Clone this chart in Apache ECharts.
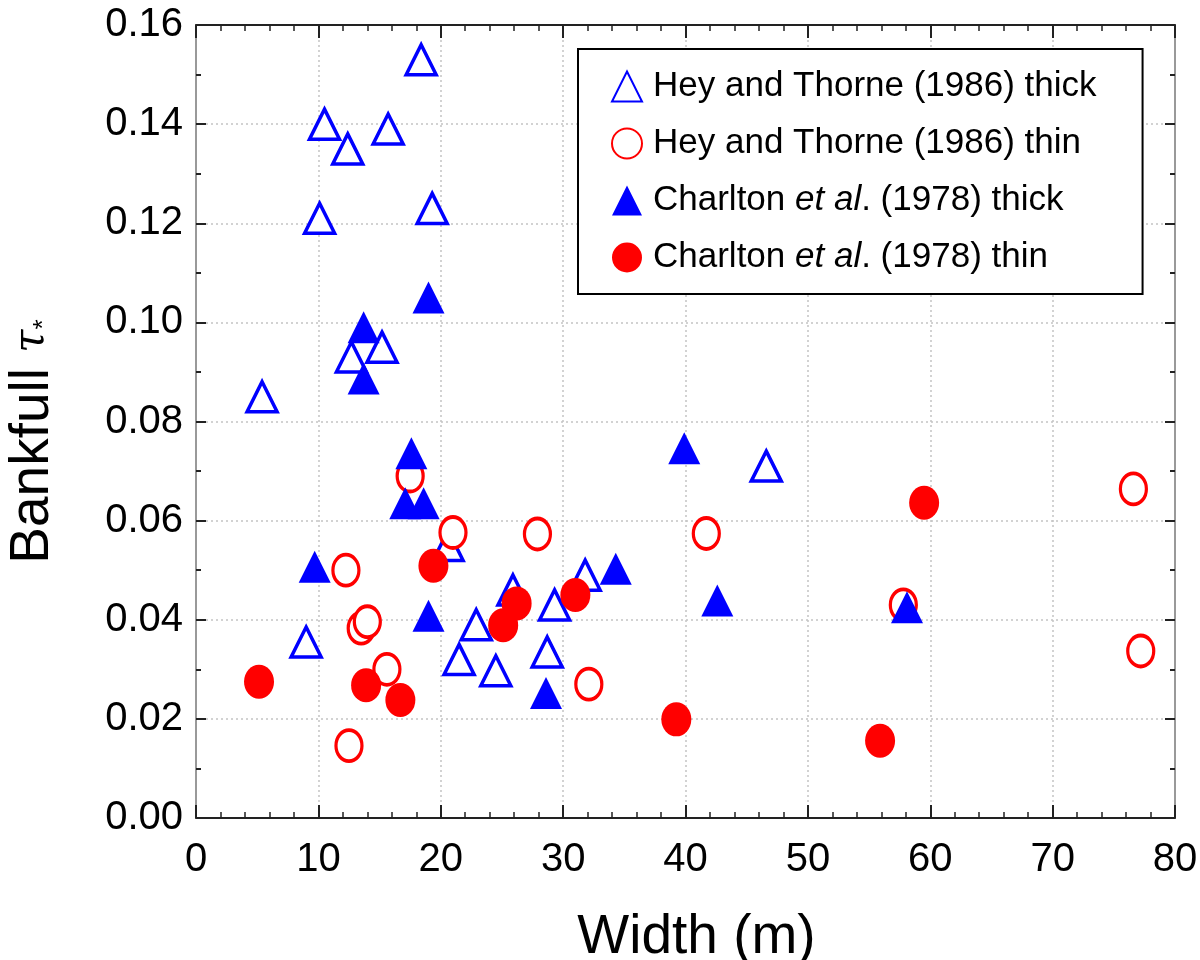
<!DOCTYPE html>
<html>
<head>
<meta charset="utf-8">
<script src="https://cdn.jsdelivr.net/npm/echarts@6/dist/echarts.min.js"></script>
<style>
  html, body { margin: 0; padding: 0; background: #fff; }
  #chart { width: 1200px; height: 960px; }
</style>
</head>
<body>
<div id="chart"></div>
<script>
// values
const heyThickW   = [18.4, 10.5, 12.4, 15.7, 10.1, 19.3, 5.4, 12.7, 15.2, 9.0, 20.6, 21.5, 22.9, 24.5, 25.9, 28.7, 29.3, 31.8, 46.6]
const heyThickTau = [0.153, 0.140, 0.135, 0.139, 0.121, 0.123, 0.085, 0.093, 0.095, 0.0355, 0.055, 0.032, 0.039, 0.0297, 0.046, 0.0335, 0.043, 0.049, 0.071]

const heyThinW   = [17.5, 21.0, 27.9, 12.25, 13.5, 14.0, 15.6, 12.5, 41.7, 57.8, 76.6, 77.2, 32.1]
const heyThinTau = [0.069, 0.0576, 0.0573, 0.050, 0.0383, 0.0396, 0.030, 0.0146, 0.0574, 0.043, 0.0664, 0.0337, 0.027]

const charltonThickW   = [19.0, 13.7, 13.7, 17.6, 17.1, 18.6, 9.7, 19.0, 28.6, 34.3, 39.9, 42.6, 58.1]
const charltonThickTau = [0.105, 0.099, 0.0887, 0.0736, 0.0635, 0.0635, 0.0507, 0.0408, 0.0252, 0.0503, 0.0746, 0.0439, 0.0425]

const charltonThinW   = [5.15, 13.9, 16.7, 19.4, 25.1, 26.2, 31.0, 39.25, 55.9, 59.5]
const charltonThinTau = [0.0275, 0.0268, 0.0238, 0.0509, 0.0389, 0.0433, 0.045, 0.0199, 0.0156, 0.0636]

const xTicks = [0, 10, 20, 30, 40, 50, 60, 70, 80]
const yTicks = [0, 0.02, 0.04, 0.06, 0.08, 0.10, 0.12, 0.14, 0.16]

const BLUE = '#0000ff'
const RED = '#ff0000'
const FONT = 'Arial, "Liberation Sans", sans-serif'

function pairs(xs, ys) {
  return xs.map((x, i) => [x, ys[i]])
}

const chart = echarts.init(document.getElementById('chart'))

const frameX = {
  type: 'value',
  min: xTicks[0],
  max: xTicks[xTicks.length - 1],
  interval: 10,
}
const frameY = {
  type: 'value',
  min: yTicks[0],
  max: yTicks[yTicks.length - 1],
  interval: 0.02,
}

chart.setOption({
  animation: false,
  backgroundColor: '#fff',
  grid: { left: 196, right: 25, top: 25, bottom: 142, outerBoundsMode: 'none' },
  legend: {
    orient: 'vertical',
    left: 578,
    top: 49,
    padding: [20, 46, 19, 33],
    itemWidth: 30,
    itemHeight: 30,
    itemGap: 22,
    borderColor: '#000',
    borderWidth: 2,
    backgroundColor: '#fff',
    data: ['Hey and Thorne (1986) thick', 'Hey and Thorne (1986) thin', 'Charlton et al. (1978) thick', 'Charlton et al. (1978) thin'],
    formatter: name => {
      if (name.startsWith('Charlton')) {
        return '{n|Charlton }{i|et al}{n|. ' + name.slice('Charlton et al. '.length) + '}'
      }
      return '{n|' + name + '}'
    },
    textStyle: {
      fontFamily: FONT,
      fontSize: 35,
      color: '#000',
      padding: [0, 0, 0, 6],
      rich: {
        n: { fontFamily: FONT, fontSize: 35, color: '#000', lineHeight: 30 },
        i: { fontFamily: FONT, fontSize: 35, color: '#000', fontStyle: 'italic', lineHeight: 30 },
      },
    },
  },
  xAxis: [
    Object.assign({}, frameX, {
      position: 'bottom',
      name: 'Width (m)',
      nameLocation: 'middle',
      nameGap: 92,
      nameTextStyle: { fontFamily: FONT, fontSize: 55, color: '#000', padding: [0, 0, 0, 22] },
      axisLine: { onZero: false, lineStyle: { color: '#222', width: 2 } },
      axisTick: { inside: true, length: 13, lineStyle: { color: '#222', width: 2 } },
      minorTick: { show: true, splitNumber: 5, length: 6, lineStyle: { color: '#222', width: 1.5 } },
      axisLabel: { fontFamily: FONT, fontSize: 40, color: '#000', margin: 22 },
      splitLine: { show: true, lineStyle: { color: '#c4c4c4', type: [2, 3], width: 1.5 } },
    }),
    Object.assign({}, frameX, {
      position: 'top',
      axisLine: { onZero: false, lineStyle: { color: '#222', width: 2 } },
      axisTick: { inside: true, length: 13, lineStyle: { color: '#222', width: 2 } },
      minorTick: { show: true, splitNumber: 5, length: 6, lineStyle: { color: '#222', width: 1.5 } },
      axisLabel: { show: false },
      splitLine: { show: false },
    }),
  ],
  yAxis: [
    Object.assign({}, frameY, {
      position: 'left',
      name: '{n|Bankfull }{t|τ}{s|*}',
      nameLocation: 'middle',
      nameGap: 136,
      nameTextStyle: {
        color: '#000',
        padding: [0, 40, 0, 0],
        rich: {
          n: { fontFamily: FONT, fontSize: 55, color: '#000' },
          t: { fontFamily: '"DejaVu Serif", "Liberation Serif", serif', fontStyle: 'italic', fontSize: 42, color: '#000' },
          s: { fontFamily: FONT, fontSize: 26, color: '#000', padding: [22, 0, 0, 0] },
        },
      },
      axisLine: { onZero: false, lineStyle: { color: '#999', width: 2 } },
      axisTick: { inside: true, length: 10, lineStyle: { color: '#222', width: 2 } },
      minorTick: { show: true, splitNumber: 2, length: 5, lineStyle: { color: '#222', width: 2 } },
      axisLabel: {
        fontFamily: FONT, fontSize: 40, color: '#000', margin: 13,
        formatter: v => v.toFixed(2),
      },
      splitLine: { show: true, lineStyle: { color: '#c4c4c4', type: [2, 3], width: 1.5 } },
    }),
    Object.assign({}, frameY, {
      position: 'right',
      axisLine: { onZero: false, lineStyle: { color: '#999', width: 2 } },
      axisTick: { inside: true, length: 10, lineStyle: { color: '#222', width: 2 } },
      minorTick: { show: true, splitNumber: 2, length: 5, lineStyle: { color: '#222', width: 2 } },
      axisLabel: { show: false },
      splitLine: { show: false },
    }),
  ],
  series: [
    {
      name: 'Hey and Thorne (1986) thick',
      type: 'scatter',
      symbol: 'triangle',
      symbolSize: [30, 30],
      itemStyle: { color: '#fff', borderColor: BLUE, borderWidth: 3.5, opacity: 1 },
      data: pairs(heyThickW, heyThickTau),
    },
    {
      name: 'Hey and Thorne (1986) thin',
      type: 'scatter',
      symbol: 'circle',
      symbolSize: [26, 31],
      itemStyle: { color: '#fff', borderColor: RED, borderWidth: 3.5, opacity: 1 },
      data: pairs(heyThinW, heyThinTau),
    },
    {
      name: 'Charlton et al. (1978) thick',
      type: 'scatter',
      symbol: 'triangle',
      symbolSize: [32, 32],
      itemStyle: { color: BLUE, opacity: 1 },
      data: pairs(charltonThickW, charltonThickTau),
    },
    {
      name: 'Charlton et al. (1978) thin',
      type: 'scatter',
      symbol: 'circle',
      symbolSize: [30, 34],
      itemStyle: { color: RED, opacity: 1 },
      data: pairs(charltonThinW, charltonThinTau),
    },
  ],
})

window.addEventListener('resize', () => chart.resize())
</script>
</body>
</html>
